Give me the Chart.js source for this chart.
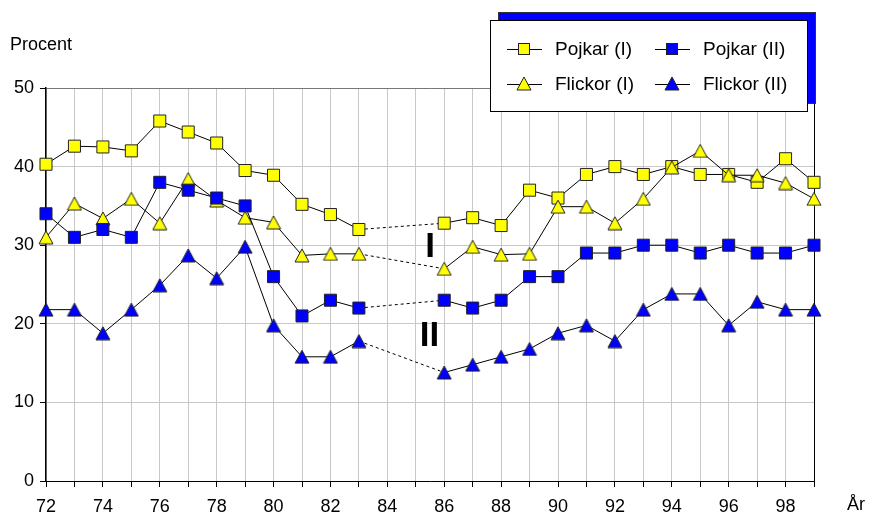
<!DOCTYPE html>
<html>
<head>
<meta charset="utf-8">
<script src="https://cdn.jsdelivr.net/npm/chart.js@4/dist/chart.umd.min.js"></script>
<style>
  html, body { margin: 0; padding: 0; background: #fff; }
  #wrap { width: 870px; height: 514px; position: relative; }
</style>
</head>
<body>
<div id="wrap"><canvas id="chart"></canvas></div>
<script>
// år 72-99, 84 och 85 saknas
var years = ["72","73","74","75","76","77","78","79","80","81","82","83","84","85",
             "86","87","88","89","90","91","92","93","94","95","96","97","98","99"];
var pojkarI   = [40.3,42.6,42.5,42.0,45.8,44.4,43.0,39.5,38.9,35.2,33.9,32.0,null,null,
                 32.8,33.5,32.5,37.0,36.0,39.0,40.0,39.0,40.0,39.0,39.0,38.0,41.0,38.0];
var flickorI  = [31.0,35.3,33.4,35.9,32.8,38.4,35.7,33.5,32.9,28.7,28.9,28.9,null,null,
                 27.0,29.8,28.8,28.9,34.9,34.9,32.8,35.9,39.9,42.0,38.9,38.9,37.9,35.9];
var pojkarII  = [34,31,32,31,38,37,36,35,26,21,23,22,null,null,
                 23,22,23,26,26,29,29,30,30,29,30,29,29,30];
var flickorII = [21.8,21.8,18.8,21.8,24.9,28.7,25.8,29.8,19.8,15.8,15.8,17.8,null,null,
                 13.8,14.8,15.8,16.8,18.8,19.8,17.8,21.8,23.8,23.8,19.8,22.8,21.8,21.8];
var yTicks = [0, 10, 20, 30, 40, 50];

var YELLOW = "#ffff00", BLUE = "#0000ff", EDGE = "#222";
var FONT = '"Liberation Sans", Arial, sans-serif';

function triangleImg(fill) {
  var c = document.createElement("canvas");
  c.width = 16; c.height = 15;
  var g = c.getContext("2d");
  g.beginPath();
  g.moveTo(8, 1); g.lineTo(15, 14); g.lineTo(1, 14); g.closePath();
  g.fillStyle = fill; g.fill();
  g.lineWidth = 1; g.strokeStyle = EDGE; g.stroke();
  return c;
}
var triY = triangleImg(YELLOW), triB = triangleImg(BLUE);

function series(label, data, fill, style) {
  return {
    label: label,
    data: data,
    borderColor: "#000",
    borderWidth: 1,
    backgroundColor: fill,
    pointBackgroundColor: fill,
    pointBorderColor: EDGE,
    pointBorderWidth: 1,
    pointStyle: style,
    pointRadius: 8.5,
    tension: 0,
    spanGaps: true,
    segment: {
      // streckad linje över åren utan data
      borderDash: function (ctx) { return data[ctx.p0DataIndex] == null ? [3, 3] : undefined; }
    }
  };
}

var extras = {
  id: "extras",
  afterDraw: function (chart) {
    var c = chart.ctx, xs = chart.scales.x, ys = chart.scales.y;
    c.save();
    // axeltitlar
    c.fillStyle = "#000";
    c.font = "18px " + FONT;
    c.textBaseline = "middle";
    c.textAlign = "left";
    c.fillText("Procent", 10, 45);
    c.fillText("År", 847, 505);
    // I och II
    c.font = "bold 35px " + FONT;
    c.textAlign = "center";
    c.fillText("I", xs.getPixelForValue(13.5), ys.getPixelForValue(29.7));
    c.fillText("II", xs.getPixelForValue(13.48), ys.getPixelForValue(18.4));
    // legend med skugga
    var bx = 490.5, by = 20.5, bw = 317, bh = 91;
    c.fillStyle = BLUE;
    c.fillRect(bx + 8, by - 8, bw, bh);
    c.strokeStyle = "#333"; c.lineWidth = 1;
    c.strokeRect(bx + 8, by - 8, bw, bh);
    c.fillStyle = "#fff";
    c.fillRect(bx, by, bw, bh);
    c.strokeStyle = "#000";
    c.strokeRect(bx, by, bw, bh);
    var items = [
      { t: "Pojkar (I)", x: 507, y: 49, f: YELLOW, s: "sq" },
      { t: "Pojkar (II)", x: 655, y: 49, f: BLUE, s: "sq" },
      { t: "Flickor (I)", x: 507, y: 84, f: YELLOW, s: "tri" },
      { t: "Flickor (II)", x: 655, y: 84, f: BLUE, s: "tri" }
    ];
    c.font = "19px " + FONT;
    c.textAlign = "left";
    items.forEach(function (it) {
      c.strokeStyle = "#000"; c.lineWidth = 1;
      c.beginPath(); c.moveTo(it.x, it.y + 0.5); c.lineTo(it.x + 35, it.y + 0.5); c.stroke();
      var mx = it.x + 17;
      if (it.s === "sq") {
        c.fillStyle = it.f;
        c.fillRect(mx - 5.5, it.y - 5.5, 11, 11);
        c.strokeStyle = EDGE;
        c.strokeRect(mx - 5.5, it.y - 5.5, 11, 11);
      } else {
        c.drawImage(it.f === YELLOW ? triY : triB, mx - 8, it.y - 8);
      }
      c.fillStyle = "#000";
      c.fillText(it.t, it.x + 48, it.y + 1);
    });
    c.restore();
  }
};

new Chart(document.getElementById("chart").getContext("2d"), {
  type: "line",
  data: {
    labels: years,
    datasets: [
      series("Flickor (II)", flickorII, BLUE, triB),
      series("Pojkar (II)", pojkarII, BLUE, "rect"),
      series("Flickor (I)", flickorI, YELLOW, triY),
      series("Pojkar (I)", pojkarI, YELLOW, "rect")
    ]
  },
  options: {
    responsive: true,
    maintainAspectRatio: false,
    animation: false,
    layout: { padding: { top: 88, right: 56, left: 0, bottom: 0 } },
    plugins: { legend: { display: false }, tooltip: { enabled: false } },
    scales: {
      x: {
        type: "category",
        offset: false,
        afterFit: function (s) { s.height = 33; },
        border: { color: "#000", width: 1 },
        grid: {
          color: function (ctx) { return ctx.index === years.length - 1 ? "#000" : "#c8c8c8"; },
          tickColor: "#000",
          tickLength: 6,
          drawTicks: true
        },
        ticks: {
          color: "#000",
          font: { family: FONT, size: 18 },
          padding: 9,
          autoSkip: false,
          maxRotation: 0,
          callback: function (v, i) { return i % 2 === 0 ? years[i] : ""; }
        }
      },
      y: {
        min: 0,
        max: 50,
        afterFit: function (s) { s.width = 46; },
        afterBuildTicks: function (s) { s.ticks = yTicks.map(function (v) { return { value: v }; }); },
        border: { color: "#000", width: 1.5 },
        grid: {
          color: function (ctx) { return ctx.tick && ctx.tick.value === 50 ? "#777" : "#c8c8c8"; },
          tickColor: "#000",
          tickLength: 6
        },
        ticks: { color: "#000", font: { family: FONT, size: 18 }, padding: 6 }
      }
    }
  },
  plugins: [extras]
});
</script>
</body>
</html>
